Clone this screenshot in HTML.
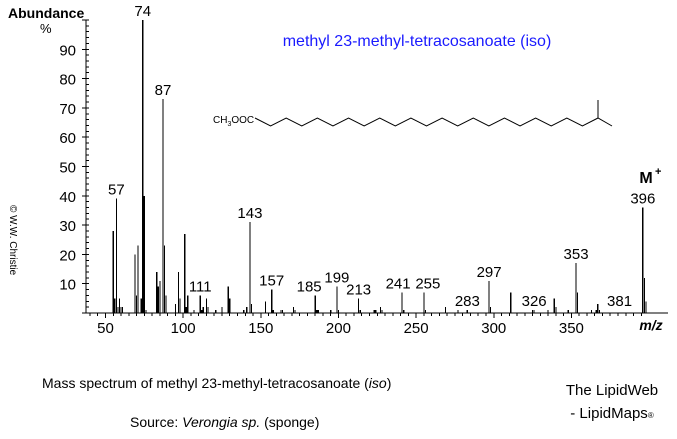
<!DOCTYPE html>
<html><head><meta charset="utf-8"><style>
body{margin:0;background:#fff;width:677px;height:434px;overflow:hidden}
svg text{font-family:"Liberation Sans",Arial,sans-serif}
</style></head><body>
<svg width="677" height="434" viewBox="0 0 677 434" xmlns="http://www.w3.org/2000/svg">
<g id="ax" stroke="#000" stroke-width="1" shape-rendering="crispEdges"></g>
<g id="pk" stroke="#000" stroke-width="1.2" shape-rendering="crispEdges"></g>
<text x="8" y="18" font-size="14" font-weight="bold">Abundance</text>
<text x="40" y="33" font-size="13">%</text>
<g font-size="15" text-anchor="end" id="yl"></g>
<g font-size="15" text-anchor="middle" id="xl"></g>
<text x="651" y="330" font-size="14" font-weight="bold" font-style="italic" text-anchor="middle">m/z</text>
<g font-size="15" text-anchor="middle" id="pl"></g>
<text x="646" y="183" font-size="16" font-weight="bold" text-anchor="middle">M</text>
<text x="655" y="175" font-size="11" font-weight="bold">+</text>
<text x="417" y="46" font-size="16" fill="#1a1aff" text-anchor="middle">methyl 23-methyl-tetracosanoate (iso)</text>
<text x="213" y="123" font-size="10">CH<tspan font-size="7" dy="3">3</tspan><tspan dy="-3">OOC</tspan></text>
<polyline id="zz" fill="none" stroke="#000" stroke-width="1"/>
<line x1="598" y1="118" x2="598" y2="100" stroke="#000"/>
<text transform="translate(10,205) rotate(90)" font-size="10">© W.W. Christie</text>
<text x="42" y="388" font-size="14">Mass spectrum of methyl 23-methyl-tetracosanoate (<tspan font-style="italic">iso</tspan>)</text>
<text x="130" y="427" font-size="14">Source:  <tspan font-style="italic">Verongia sp.</tspan> (sponge)</text>
<text x="612" y="395" font-size="15" text-anchor="middle">The LipidWeb</text>
<text x="612" y="418" font-size="15" text-anchor="middle">- LipidMaps<tspan font-size="8">®</tspan></text>
</svg>
<script>
const X=m=>105.5+(m-50)*1.553, Y=v=>313-v*2.93;
const ns="http://www.w3.org/2000/svg";
function el(p,t,a,txt){const e=document.createElementNS(ns,t);for(const k in a)e.setAttribute(k,a[k]);if(txt)e.textContent=txt;document.getElementById(p).appendChild(e);}
el("ax","line",{x1:86,y1:313,x2:668,y2:313});
el("ax","line",{x1:86,y1:20,x2:86,y2:313});
for(let v=0;v<=100;v+=2){el("ax","line",{x1:v%10?86:82,y1:Y(v),x2:89,y2:Y(v)});}
for(let v=10;v<=90;v+=10)el("yl","text",{x:76,y:Y(v)+6},String(v));
for(let m=40;m<=395;m+=5){el("ax","line",{x1:X(m),y1:313,x2:X(m),y2:m%50?316:318});}
for(let m=50;m<=350;m+=50)el("xl","text",{x:X(m),y:333},String(m));
const P={55:28,56:5,57:39,58:2,59:5,60:2,61:2,69:20,70:6,71:23,73:5,74:100,75:40,76:1,83:14,84:9,85:11,87:73,88:23,89:6,95:3,97:14,98:5,101:27,102:2,103:6,107:1,111:6,112:1,113:2,115:5,116:2,121:1,125:2,129:9,130:5,139:1,141:2,143:31,144:3,153:4,157:8,158:1,163:1,164:1,171:2,172:1,185:6,186:1,187:1,195:1,199:9,200:1,213:5,214:1,223:1,224:1,227:2,228:1,241:7,242:1,255:7,256:1,269:2,277:1,283:1,297:11,298:2,311:7,325:1,326:1,335:1,339:5,340:2,348:1,353:17,354:7,363:1,366:1,367:3,368:1,396:36,397:12,398:4};
for(const m in P){const x=X(+m);el("pk","line",{x1:x,y1:313,x2:x,y2:Y(P[m])});}
const L=[[57,"57",39],[74,"74",100],[87,"87",73],[111,"111",6],[143,"143",31],[157,"157",8],[185,"185",6],[199,"199",9],[213,"213",5],[241,"241",7],[255,"255",7],[283,"283",1],[297,"297",11],[326,"326",1],[353,"353",17],[381,"381",1],[396,"396",36]];
for(const [m,t,v] of L){let dx=0;if(t=="241")dx=-4;if(t=="255")dx=4;if(t=="185")dx=-6;el("pl","text",{x:X(m)+dx,y:Y(v)-4},t);}
let pts=[];for(let i=0;i<=22;i++){pts.push([255+i*343/22,i%2?126:118]);}
pts.push([612,126]);
document.getElementById("zz").setAttribute("points",pts.map(p=>p.join(",")).join(" "));
</script>
</body></html>
